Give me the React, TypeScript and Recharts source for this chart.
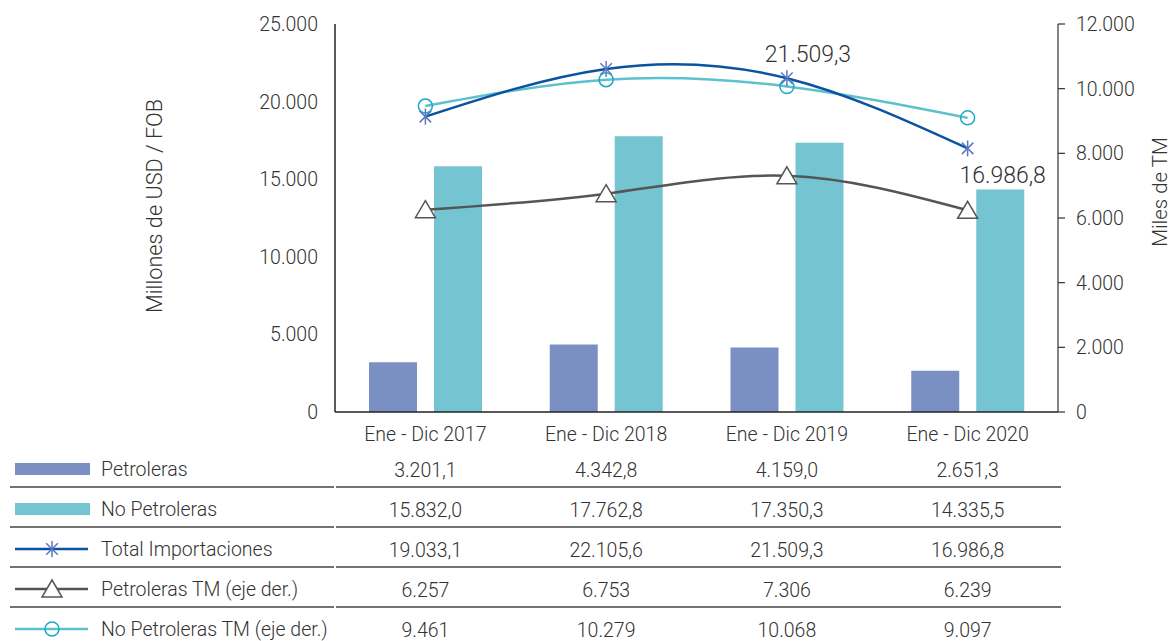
import { Bar, ComposedChart, LabelList, Line, XAxis, YAxis } from 'recharts'

const categories = ['Ene - Dic 2017', 'Ene - Dic 2018', 'Ene - Dic 2019', 'Ene - Dic 2020']
const petroleras = [3201.1, 4342.8, 4159.0, 2651.3]
const noPetroleras = [15832.0, 17762.8, 17350.3, 14335.5]
const totalImportaciones = [19033.1, 22105.6, 21509.3, 16986.8]
const petrolerasTM = [6257, 6753, 7306, 6239]
const noPetrolerasTM = [9461, 10279, 10068, 9097]
const leftTicks = [0, 5000, 10000, 15000, 20000, 25000]
const rightTicks = [0, 2000, 4000, 6000, 8000, 10000, 12000]
const labeledTotals = [2, 3]

const FONT = 'Roboto, "Liberation Sans", sans-serif'
const TEXT = '#333333'
const C_PET = '#7B90C2'
const C_NOPET = '#74C4D2'
const C_TOTAL = '#0B52A0'
const C_STAR = '#5A78C2'
const C_PETTM = '#555555'
const C_NOPETTM = '#5CC0CD'
const C_CIRCLE = '#1AABC4'

const CHART_W = 1171
const CHART_H = 462
const PLOT_LEFT = 335
const PLOT_RIGHT = 1058

function fmt(v: number, decimals: number) {
  const [int, dec] = v.toFixed(decimals).split('.')
  const grouped = int.replace(/\B(?=(\d{3})+(?!\d))/g, '.')
  return dec ? `${grouped},${dec}` : grouped
}

const chartData = categories.map((cat, i) => ({
  cat,
  petroleras: petroleras[i],
  noPetroleras: noPetroleras[i],
  total: totalImportaciones[i],
  petTM: petrolerasTM[i],
  noPetTM: noPetrolerasTM[i],
}))

function Star({ cx, cy, size = 8 }: { cx: number; cy: number; size?: number }) {
  const d = size * 0.72
  return (
    <g stroke={C_STAR} strokeWidth={1.5}>
      <line x1={cx} y1={cy - size} x2={cx} y2={cy + size} />
      <line x1={cx - d} y1={cy - d} x2={cx + d} y2={cy + d} />
      <line x1={cx - d} y1={cy + d} x2={cx + d} y2={cy - d} />
    </g>
  )
}

function Triangle({ cx, cy }: { cx: number; cy: number }) {
  return (
    <polygon
      points={`${cx},${cy - 9} ${cx + 10},${cy + 8} ${cx - 10},${cy + 8}`}
      fill="#fff"
      stroke={C_PETTM}
      strokeWidth={1.5}
    />
  )
}

function Circle({ cx, cy }: { cx: number; cy: number }) {
  return <circle cx={cx} cy={cy} r={7} fill="none" stroke={C_CIRCLE} strokeWidth={1.5} />
}

const renderStar = (p: any) => <Star key={`s${p.index}`} cx={p.cx} cy={p.cy} />
const renderTriangle = (p: any) => <Triangle key={`t${p.index}`} cx={p.cx} cy={p.cy} />
const renderCircle = (p: any) => <Circle key={`c${p.index}`} cx={p.cx} cy={p.cy} />

const labelOffsets: Record<number, [number, number]> = { 2: [21, -16], 3: [35, 35] }

function TotalLabel(props: any) {
  const { x, y, index, value } = props
  if (!labeledTotals.includes(index)) return null
  const [dx, dy] = labelOffsets[index]
  return (
    <text x={x + dx} y={y + dy} textAnchor="middle" fontSize={23} fontWeight={300} fill={TEXT} fontFamily={FONT}>
      {fmt(value, 1)}
    </text>
  )
}

const tableRows = [
  { name: 'Petroleras', values: petroleras, decimals: 1, icon: 'bar', color: C_PET },
  { name: 'No Petroleras', values: noPetroleras, decimals: 1, icon: 'bar', color: C_NOPET },
  { name: 'Total Importaciones', values: totalImportaciones, decimals: 1, icon: 'star', color: C_TOTAL },
  { name: 'Petroleras TM (eje der.)', values: petrolerasTM, decimals: 0, icon: 'triangle', color: C_PETTM },
  { name: 'No Petroleras TM (eje der.)', values: noPetrolerasTM, decimals: 0, icon: 'circle', color: C_NOPETTM },
]

function Table() {
  const band = (PLOT_RIGHT - PLOT_LEFT) / categories.length
  const firstSep = 487
  const rowH = 40
  const textProps = { fontSize: 19.5, fontWeight: 300, fill: TEXT, fontFamily: FONT }
  return (
    <svg width={CHART_W} height={641} style={{ position: 'absolute', left: 0, top: 0, pointerEvents: 'none' }}>
      <text transform="rotate(-90, 162, 206)" x={162} y={206} textAnchor="middle" {...textProps} fontSize={21.7}>
        Millones de USD / FOB
      </text>
      <text transform="rotate(-90, 1167, 192)" x={1167} y={192} textAnchor="middle" {...textProps} fontSize={20.5}>
        Miles de TM
      </text>
      {tableRows.map((row, r) => {
        const sep = firstSep + r * rowH
        const cy = sep - 18
        return (
          <g key={row.name}>
            {row.icon === 'bar' ? (
              <rect x={15} y={cy - 6} width={75} height={12} fill={row.color} />
            ) : (
              <line x1={15} y1={cy} x2={88} y2={cy} stroke={row.color} strokeWidth={2.5} />
            )}
            {row.icon === 'star' && <Star cx={52} cy={cy} />}
            {row.icon === 'triangle' && <Triangle cx={52} cy={cy} />}
            {row.icon === 'circle' && <Circle cx={52} cy={cy} />}
            <text x={101} y={sep - 11} {...textProps}>
              {row.name}
            </text>
            {row.values.map((v, i) => (
              <text key={i} x={PLOT_LEFT + band * (i + 0.5)} y={sep - 10} textAnchor="middle" {...textProps}>
                {fmt(v, row.decimals)}
              </text>
            ))}
            {r < tableRows.length - 1 && (
              <g stroke="#444" strokeWidth={1.5}>
                <line x1={10} y1={sep} x2={334} y2={sep} />
                <line x1={336} y1={sep} x2={1061} y2={sep} />
              </g>
            )}
          </g>
        )
      })}
    </svg>
  )
}

export default function App() {
  const tick = { fill: TEXT, fontSize: 19.5, fontWeight: 300, fontFamily: FONT }
  return (
    <div
      style={{
        position: 'absolute',
        left: 0,
        top: 0,
        width: CHART_W,
        height: 641,
        background: '#fff',
        fontFamily: FONT,
      }}
    >
      <ComposedChart
        width={CHART_W}
        height={CHART_H}
        data={chartData}
        margin={{ top: 24, right: 0, bottom: 20, left: 0 }}
        barSize={48}
        barGap={17}
      >
        <XAxis
          dataKey="cat"
          height={30}
          tickLine={false}
          tickMargin={9}
          axisLine={{ stroke: '#222', strokeWidth: 1.5 }}
          tick={tick}
        />
        <YAxis
          yAxisId="left"
          width={PLOT_LEFT}
          domain={[0, 25000]}
          ticks={leftTicks}
          tickFormatter={(v: number) => fmt(v, 0)}
          tickLine={false}
          tickMargin={11}
          axisLine={{ stroke: '#222', strokeWidth: 1.5 }}
          tick={tick}
        />
        <YAxis
          yAxisId="right"
          orientation="right"
          width={CHART_W - PLOT_RIGHT}
          domain={[0, 12000]}
          ticks={rightTicks}
          tickFormatter={(v: number) => fmt(v, 0)}
          tickSize={7}
          tickMargin={11}
          tickLine={{ stroke: '#333', strokeWidth: 1.2 }}
          axisLine={{ stroke: '#333', strokeWidth: 1.2 }}
          tick={tick}
        />
        <Bar yAxisId="left" dataKey="petroleras" fill={C_PET} isAnimationActive={false} />
        <Bar yAxisId="left" dataKey="noPetroleras" fill={C_NOPET} isAnimationActive={false} />
        <Line
          yAxisId="right"
          type="natural"
          dataKey="petTM"
          stroke={C_PETTM}
          strokeWidth={2.5}
          dot={renderTriangle}
          activeDot={false}
          isAnimationActive={false}
        />
        <Line
          yAxisId="right"
          type="natural"
          dataKey="noPetTM"
          stroke={C_NOPETTM}
          strokeWidth={2.5}
          dot={renderCircle}
          activeDot={false}
          isAnimationActive={false}
        />
        <Line
          yAxisId="left"
          type="natural"
          dataKey="total"
          stroke={C_TOTAL}
          strokeWidth={2.5}
          dot={renderStar}
          activeDot={false}
          isAnimationActive={false}
        >
          <LabelList dataKey="total" content={TotalLabel} />
        </Line>
      </ComposedChart>
      <Table />
    </div>
  )
}
